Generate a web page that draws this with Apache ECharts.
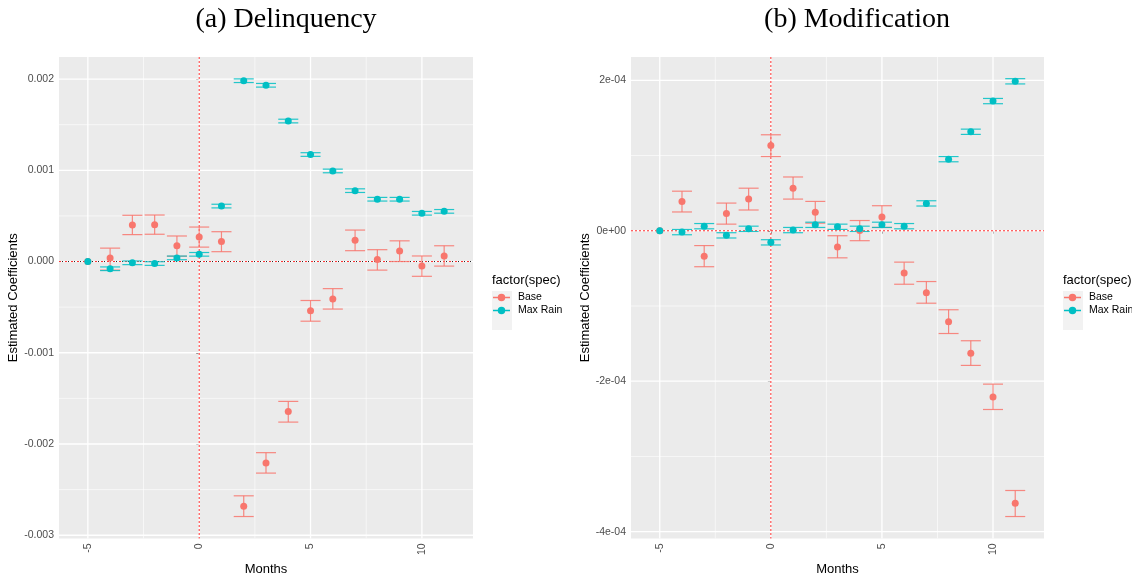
<!DOCTYPE html>
<html>
<head>
<meta charset="utf-8">
<script src="https://cdn.jsdelivr.net/npm/echarts@6/dist/echarts.min.js"></script>
<style>html,body{margin:0;padding:0;background:#fff}#c{width:1132px;height:581px}</style>
</head>
<body>
<div id="c"></div>
<script>
// ---------- DATA ----------
const months = [-5,-4,-3,-2,-1,0,1,2,3,4,5,6,7,8,9,10,11];

// (a) Delinquency
const delBase   = [0, 0.00004, 0.0004, 0.000403, 0.000173, 0.00027, 0.00022, -0.002683, -0.002207, -0.001645, -0.000539, -0.00041, 0.000234, 0.000022, 0.000115, -0.00005, 0.000061];
const delBaseLo = [0, -0.000094, 0.000295, 0.000299, 0.000058, 0.000158, 0.000108, -0.002795, -0.002319, -0.00176, -0.000654, -0.000521, 0.000119, -0.000094, 0, -0.000162, -0.00005];
const delBaseHi = [0, 0.000147, 0.000507, 0.00051, 0.00028, 0.000378, 0.000327, -0.002568, -0.002095, -0.001533, -0.000427, -0.000297, 0.000345, 0.00013, 0.000227, 0.000061, 0.000173];
const delRain   = [0, -0.000079, -0.000014, -0.000022, 0.00004, 0.000079, 0.000608, 0.001982, 0.001932, 0.00154, 0.001173, 0.000993, 0.000777, 0.000683, 0.000683, 0.000529, 0.00055];
const delRainLo = [0, -0.000099, -0.000034, -0.000042, 0.00002, 0.000059, 0.000588, 0.001962, 0.001912, 0.00152, 0.001153, 0.000973, 0.000757, 0.000663, 0.000663, 0.000509, 0.00053];
const delRainHi = [0, -0.000059, 0.000006, -0.000002, 0.00006, 0.000099, 0.000628, 0.002002, 0.001952, 0.00156, 0.001193, 0.001013, 0.000797, 0.000703, 0.000703, 0.000549, 0.00057];

// (b) Modification
const modBase   = [0, 0.000039, -0.0000338, 0.0000228, 0.0000421, 0.0001132, 0.0000566, 0.0000246, -0.0000215, 0.0000004, 0.0000184, -0.0000561, -0.0000825, -0.0001208, -0.0001628, -0.000221, -0.0003623];
const modBaseLo = [0, 0.000025, -0.0000478, 0.0000088, 0.0000276, 0.0000987, 0.0000421, 0.0000101, -0.000036, -0.0000132, 0.0000044, -0.0000711, -0.0000963, -0.0001366, -0.000179, -0.0002376, -0.0003799];
const modBaseHi = [0, 0.0000526, -0.0000197, 0.0000368, 0.0000566, 0.0001276, 0.0000715, 0.000039, -0.0000066, 0.0000136, 0.0000333, -0.0000417, -0.0000675, -0.000105, -0.0001462, -0.0002039, -0.0003453];
const modRain   = [0, -0.0000018, 0.0000061, -0.0000061, 0.0000026, -0.0000154, 0.0000009, 0.0000079, 0.0000053, 0.0000026, 0.0000079, 0.0000061, 0.0000364, 0.0000952, 0.0001316, 0.0001724, 0.0001987];
const modRainLo = [0, -0.0000053, 0.0000026, -0.0000096, -0.0000009, -0.0000189, -0.0000026, 0.0000044, 0.0000018, -0.0000009, 0.0000044, 0.0000026, 0.0000329, 0.0000917, 0.0001281, 0.0001689, 0.0001952];
const modRainHi = [0, 0.0000017, 0.0000096, -0.0000026, 0.0000061, -0.0000119, 0.0000044, 0.0000114, 0.0000088, 0.0000061, 0.0000114, 0.0000096, 0.0000399, 0.0000987, 0.0001351, 0.0001759, 0.0002022];

// ticks
const xTicks = [-5, 0, 5, 10];
const xTickLabels = ['-5', '0', '5', '10'];
const xMinor = [-2.5, 2.5, 7.5];
const yTicksA = [-0.003, -0.002, -0.001, 0, 0.001, 0.002];
const yLabelsA = ['-0.003', '-0.002', '-0.001', '0.000', '0.001', '0.002'];
const yMinorA = [-0.0025, -0.0015, -0.0005, 0.0005, 0.0015];
const yTicksB = [-0.0004, -0.0002, 0, 0.0002];
const yLabelsB = ['-4e-04', '-2e-04', '0e+00', '2e-04'];
const yMinorB = [-0.0003, -0.0001, 0.0001];
const seriesNames = ['Base', 'Max Rain'];
const titles = ['(a) Delinquency', '(b) Modification'];

// ---------- STYLE ----------
const RED = '#F8766D', TEAL = '#00BFC4';
const chart = echarts.init(document.getElementById('c'), null, {renderer: 'canvas'});

function lookup(ticks, labels) {
  return function (v) {
    for (let i = 0; i < ticks.length; i++) if (Math.abs(ticks[i] - v) < 1e-12) return labels[i];
    return '';
  };
}

const grids = [
  {left: 59, top: 57, width: 414, height: 489, show: true, backgroundColor: '#EBEBEB', borderWidth: 0},
  {left: 631, top: 57, width: 413, height: 489, show: true, backgroundColor: '#EBEBEB', borderWidth: 0}
];

function xAxis(i) {
  return {
    type: 'value', gridIndex: i, min: -6.295, max: 12.295,
    name: 'Months', nameLocation: 'middle', nameGap: 18,
    nameTextStyle: {fontFamily: 'Liberation Sans', fontSize: 13, color: '#000'},
    axisLine: {show: false},
    axisTick: {show: true, length: 3, lineStyle: {color: '#333'}, customValues: xTicks},
    axisLabel: {show: true, rotate: 90, margin: 5, fontFamily: 'Liberation Sans', fontSize: 10.5, color: '#4D4D4D',
      customValues: xTicks, formatter: lookup(xTicks, xTickLabels)},
    splitLine: {show: false}
  };
}
function yAxis(i, min, max, ticks, labels, gap) {
  return {
    type: 'value', gridIndex: i, min: min, max: max,
    name: 'Estimated Coefficients', nameLocation: 'middle', nameGap: gap,
    nameTextStyle: {fontFamily: 'Liberation Sans', fontSize: 13, color: '#000'},
    axisLine: {show: false},
    axisTick: {show: true, length: 3, lineStyle: {color: '#333'}, customValues: ticks},
    axisLabel: {show: true, margin: 5, fontFamily: 'Liberation Sans', fontSize: 10.5, color: '#4D4D4D',
      customValues: ticks, formatter: lookup(ticks, labels)},
    splitLine: {show: false}
  };
}

// line drawn across the whole plot panel at a data value; orient 'v' or 'h'
function panelLines(i, values, orient, style, z) {
  return {
    type: 'custom', xAxisIndex: i, yAxisIndex: i, z: z, silent: true, clip: false,
    data: values.map(v => orient === 'v' ? [v, 0] : [0, v]),
    renderItem: function (params, api) {
      const cs = params.coordSys;
      const p = api.coord([api.value(0), api.value(1)]);
      const shape = orient === 'v'
        ? {x1: p[0], y1: cs.y, x2: p[0], y2: cs.y + cs.height}
        : {x1: cs.x, y1: p[1], x2: cs.x + cs.width, y2: p[1]};
      return {type: 'line', shape: shape, style: Object.assign({fill: null}, style)};
    }
  };
}

function errSeries(i, name, color, lo, hi) {
  const data = [];
  months.forEach((m, k) => { if (lo[k] !== hi[k]) data.push([m, lo[k], hi[k]]); });
  return {
    type: 'custom', name: name, xAxisIndex: i, yAxisIndex: i, z: 5, silent: true,
    itemStyle: {color: color},
    data: data,
    renderItem: function (params, api) {
      const x = api.value(0);
      const pLo = api.coord([x, api.value(1)]);
      const pHi = api.coord([x, api.value(2)]);
      const hw = api.size([0.45, 0])[0];
      const st = {stroke: color, lineWidth: 1.2, opacity: 0.85};
      return {type: 'group', children: [
        {type: 'line', shape: {x1: pLo[0], y1: pLo[1], x2: pHi[0], y2: pHi[1]}, style: st},
        {type: 'line', shape: {x1: pLo[0] - hw, y1: pLo[1], x2: pLo[0] + hw, y2: pLo[1]}, style: st},
        {type: 'line', shape: {x1: pHi[0] - hw, y1: pHi[1], x2: pHi[0] + hw, y2: pHi[1]}, style: st}
      ]};
    }
  };
}
function ptSeries(i, name, color, vals, z) {
  return {
    type: 'scatter', name: name, xAxisIndex: i, yAxisIndex: i, z: z,
    symbol: 'circle', symbolSize: 7, itemStyle: {color: color, opacity: 1},
    data: months.map((m, k) => [m, vals[k]])
  };
}

const MAJ = {stroke: '#FFFFFF', lineWidth: 1.3};
const MIN = {stroke: '#FFFFFF', lineWidth: 0.6};
const REDDOT = {stroke: '#FF3030', lineWidth: 1, lineDash: [2, 2]};
const REDDOT2 = {stroke: '#FF3030', lineWidth: 1, lineDash: [2, 4]};
const BLKDOT = {stroke: '#222222', lineWidth: 1, lineDash: [1, 5], lineDashOffset: 3};

function panelGrid(i, yMajor, yMinor, blackZero) {
  const arr = [
    panelLines(i, xMinor, 'v', MIN, 1),
    panelLines(i, yMinor, 'h', MIN, 1),
    panelLines(i, xTicks, 'v', MAJ, 1),
    panelLines(i, yMajor, 'h', MAJ, 1),
    panelLines(i, [0], 'h', blackZero ? REDDOT2 : REDDOT, 2),
    panelLines(i, [0], 'v', REDDOT, 2)
  ];
  if (blackZero) arr.push(panelLines(i, [0], 'h', BLKDOT, 2));
  return arr;
}

const legendIcon = 'path://M0,46 L100,46 L100,54 L0,54 Z M50,28 A22,22 0 1,1 49.9,28 Z';

const option = {
  animation: false,
  backgroundColor: '#fff',
  title: [
    {text: titles[0], left: 281, top: 1, textAlign: 'center',
      textStyle: {fontFamily: 'Liberation Serif', fontSize: 28, fontWeight: 'normal', color: '#000'}},
    {text: titles[1], left: 852, top: 1, textAlign: 'center',
      textStyle: {fontFamily: 'Liberation Serif', fontSize: 28, fontWeight: 'normal', color: '#000'}}
  ],
  grid: grids,
  xAxis: [xAxis(0), xAxis(1)],
  yAxis: [
    yAxis(0, -0.003035, 0.002242, yTicksA, yLabelsA, 35),
    yAxis(1, -0.000409, 0.000231, yTicksB, yLabelsB, 36)
  ],
  legend: [
    {orient: 'vertical', left: 493, top: 292, padding: 0, itemWidth: 17, itemHeight: 17, itemGap: 2,
      data: seriesNames, selectedMode: false,
      textStyle: {fontFamily: 'Liberation Sans', fontSize: 10.5, color: '#000', padding: [0, 0, 0, 3]},
      icon: legendIcon},
    {orient: 'vertical', left: 1064, top: 292, padding: 0, itemWidth: 17, itemHeight: 17, itemGap: 2,
      data: seriesNames, selectedMode: false,
      textStyle: {fontFamily: 'Liberation Sans', fontSize: 10.5, color: '#000', padding: [0, 0, 0, 3]},
      icon: legendIcon}
  ],
  graphic: [
    {type: 'rect', left: 492, top: 291, shape: {width: 20, height: 39}, style: {fill: '#F2F2F2'}, z: -1},
    {type: 'rect', left: 1063, top: 291, shape: {width: 20, height: 39}, style: {fill: '#F2F2F2'}, z: -1},
    {type: 'text', left: 492, top: 274, style: {text: 'factor(spec)', font: '13px "Liberation Sans"', fill: '#000'}},
    {type: 'text', left: 1063, top: 274, style: {text: 'factor(spec)', font: '13px "Liberation Sans"', fill: '#000'}}
  ],
  series: [
    ...panelGrid(0, yTicksA, yMinorA, true),
    ...panelGrid(1, yTicksB, yMinorB, false),
    errSeries(0, 'Base', RED, delBaseLo, delBaseHi),
    errSeries(0, 'Max Rain', TEAL, delRainLo, delRainHi),
    ptSeries(0, 'Base', RED, delBase, 6),
    ptSeries(0, 'Max Rain', TEAL, delRain, 7),
    errSeries(1, 'Base', RED, modBaseLo, modBaseHi),
    errSeries(1, 'Max Rain', TEAL, modRainLo, modRainHi),
    ptSeries(1, 'Base', RED, modBase, 6),
    ptSeries(1, 'Max Rain', TEAL, modRain, 7)
  ]
};
chart.setOption(option);
</script>
</body>
</html>
